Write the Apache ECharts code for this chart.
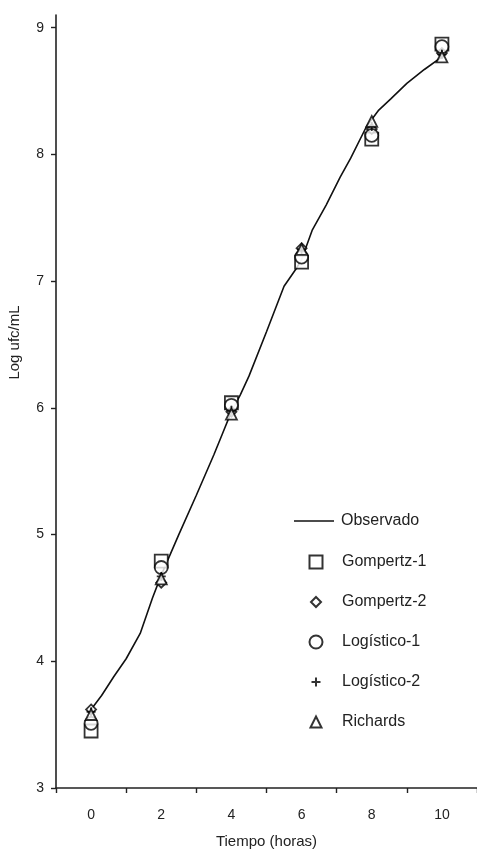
<!DOCTYPE html>
<html>
<head>
<meta charset="utf-8">
<script src="https://cdn.jsdelivr.net/npm/echarts@6/dist/echarts.min.js"></script>
<style>
html,body{margin:0;padding:0;background:#fff;}
#chart{width:477px;height:849px;}
</style>
</head>
<body>
<div id="chart"></div>
<script>
// ---- data ----
const hours = [0, 2, 4, 6, 8, 10];
const obsX = [0, 0.3, 0.65, 1.0, 1.4, 1.75, 2.0, 2.5, 3.0, 3.5, 3.75, 4.0, 4.25, 4.5, 5.0, 5.5, 5.85, 6.0, 6.3, 6.7, 7.1, 7.4, 7.85, 8.2, 8.55, 9.0, 9.5, 10.0];
const obsY = [3.62, 3.73, 3.88, 4.02, 4.22, 4.50, 4.68, 5.00, 5.31, 5.63, 5.80, 5.97, 6.10, 6.25, 6.60, 6.96, 7.10, 7.17, 7.40, 7.60, 7.82, 7.97, 8.22, 8.35, 8.44, 8.56, 8.67, 8.77];
const gompertz1 = [3.45, 4.79, 6.04, 7.15, 8.12, 8.87];
const gompertz2 = [3.62, 4.62, 5.97, 7.26, 8.20, 8.80];
const logistico1 = [3.51, 4.74, 6.02, 7.19, 8.15, 8.85];
const logistico2 = [3.60, 4.67, 5.98, 7.25, 8.22, 8.79];
const richards = [3.58, 4.65, 5.95, 7.25, 8.26, 8.77];
const xTickValues = [-1, 1, 3, 5, 7, 9, 11];
const xLabelValues = [0, 2, 4, 6, 8, 10];
const yTickValues = [3, 4, 5, 6, 7, 8, 9];

const FONT = 'Liberation Sans, Arial, sans-serif';
const pair = (xs, ys) => xs.map((x, i) => [x, ys[i]]);
const plusPath = 'path://M0,5L10,5M5,0L5,10';

function scatter(name, vals, symbol, size, fill) {
  return {
    name, type: 'scatter', data: pair(hours, vals), symbol, symbolSize: size,
    itemStyle: { color: fill, borderColor: '#000', borderWidth: 1.8 },
    emphasis: { disabled: true }, silent: true
  };
}

const ICON_CX = 315, TEXT_X = 341;
function leg(name, rowY, size) {
  return {
    data: [name], left: ICON_CX - size / 2, top: rowY - 8, padding: 0,
    itemWidth: size, itemHeight: size, selectedMode: false,
    textStyle: { fontFamily: FONT, fontSize: 16, color: '#222',
      padding: [0, 0, 0, TEXT_X - (ICON_CX + size / 2 + 5)] }
  };
}

const chart = echarts.init(document.getElementById('chart'), null, { renderer: 'canvas' });
chart.setOption({
  animation: false,
  backgroundColor: '#fff',
  grid: { left: 56, right: 0, top: 15, bottom: 61, containLabel: false, outerBoundsMode: 'none' },
  legend: [
    {
      data: [{ name: 'Observado', icon: 'rect' }], left: 294, top: 521 - 8, padding: 0,
      itemWidth: 40, itemHeight: 1.6, selectedMode: false,
      itemStyle: { color: '#111', borderWidth: 0 },
      textStyle: { fontFamily: FONT, fontSize: 16, color: '#222', padding: [0, 0, 0, 2] }
    },
    leg('Gompertz-1', 562, 13),
    leg('Gompertz-2', 602, 10),
    leg('Logístico-1', 642, 13),
    leg('Logístico-2', 682, 9),
    leg('Richards', 722, 11)
  ],
  xAxis: {
    type: 'value', min: -1, max: 11, interval: 1,
    name: 'Tiempo (horas)', nameLocation: 'middle', nameGap: 46,
    nameTextStyle: { fontFamily: FONT, fontSize: 15, color: '#222' },
    axisLine: { show: true, onZero: false, lineStyle: { color: '#222', width: 1.6 } },
    axisTick: { show: true, length: 5, customValues: xTickValues, lineStyle: { color: '#222', width: 1.4 } },
    axisLabel: { customValues: xLabelValues, margin: 20, fontFamily: FONT, fontSize: 14, color: '#222' },
    splitLine: { show: false }
  },
  yAxis: {
    type: 'value', min: 3, max: 9.1, interval: 1,
    name: 'Log ufc/mL', nameLocation: 'middle', nameGap: 34, nameRotate: 90,
    nameTextStyle: { fontFamily: FONT, fontSize: 15, color: '#222', padding: [0, 0, 0, 118] },
    axisLine: { show: true, onZero: false, lineStyle: { color: '#222', width: 1.6 } },
    axisTick: { show: true, length: 5, customValues: yTickValues, lineStyle: { color: '#222', width: 1.4 } },
    axisLabel: { customValues: yTickValues, margin: 12, fontFamily: FONT, fontSize: 14, color: '#222' },
    splitLine: { show: false }
  },
  series: [
    {
      name: 'Observado', type: 'line', data: pair(obsX, obsY), symbol: 'none',
      lineStyle: { color: '#111', width: 1.6 }, itemStyle: { color: '#111' },
      emphasis: { disabled: true }, silent: true, z: 1
    },
    scatter('Gompertz-1', gompertz1, 'rect', 13, '#fff'),
    scatter('Gompertz-2', gompertz2, 'diamond', 10, '#fff'),
    scatter('Logístico-1', logistico1, 'circle', 13, '#fff'),
    scatter('Logístico-2', logistico2, plusPath, 9, 'rgba(0,0,0,0)'),
    scatter('Richards', richards, 'triangle', 11, '#fff')
  ]
});
</script>
</body>
</html>
